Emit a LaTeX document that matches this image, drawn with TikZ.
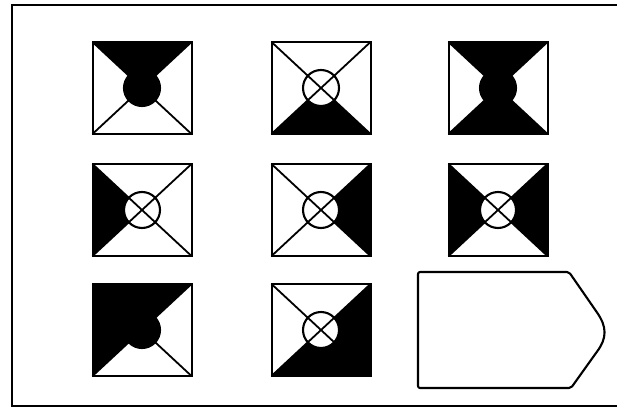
\documentclass[tikz,border=0pt]{standalone}
\usepackage{tikz}
\tikzset{
  framestroke/.style={line width=2.2pt, line cap=round},
  cellbox/.style={line width=2pt},
  cellline/.style={line width=1.8pt},
  dotline/.style={line width=2.1pt},
  answerbox/.style={line width=2.1pt, line join=round, rounded corners=2pt},
}
\begin{document}
\begin{tikzpicture}[x=1pt,y=-1pt]
\useasboundingbox (0,0) rectangle (617,409);
% outer frame, open on the right
\draw[framestroke] (617,5) -- (12,5) -- (12,406) -- (617,406);
% cells: centre x / centre y / top / right / bottom / left / dot
\foreach \cx/\cy/\ct/\cr/\cb/\cl/\cc in {
  142/88/black/white/white/white/black,
  321/88/white/white/black/white/white,
  498/88/black/white/black/white/black,
  142/210/white/white/white/black/white,
  321/210/white/black/white/white/white,
  498/210/white/black/white/black/white,
  142/330/black/white/white/black/black,
  321/330/white/black/black/white/white}{
  \begin{scope}[shift={(\cx,\cy)}]
    \fill[\ct] (-49.5,-46) -- (49.5,-46) -- (0,0) -- cycle;
    \fill[\cr] (49.5,-46) -- (49.5,46) -- (0,0) -- cycle;
    \fill[\cb] (49.5,46) -- (-49.5,46) -- (0,0) -- cycle;
    \fill[\cl] (-49.5,46) -- (-49.5,-46) -- (0,0) -- cycle;
    \draw[dotline, fill=\cc] (0,0) circle[radius=18];
    \draw[cellline] (-49.5,-46) -- (49.5,46) (-49.5,46) -- (49.5,-46);
    \draw[cellbox] (-49.5,-46) rectangle (49.5,46);
  \end{scope}
}
% empty answer field
\draw[answerbox] (418,272) -- (569,272) -- (596,311)
  .. controls (607,327) and (607,338) .. (596,353) -- (571,388) -- (418,388) -- cycle;
\end{tikzpicture}
\end{document}
